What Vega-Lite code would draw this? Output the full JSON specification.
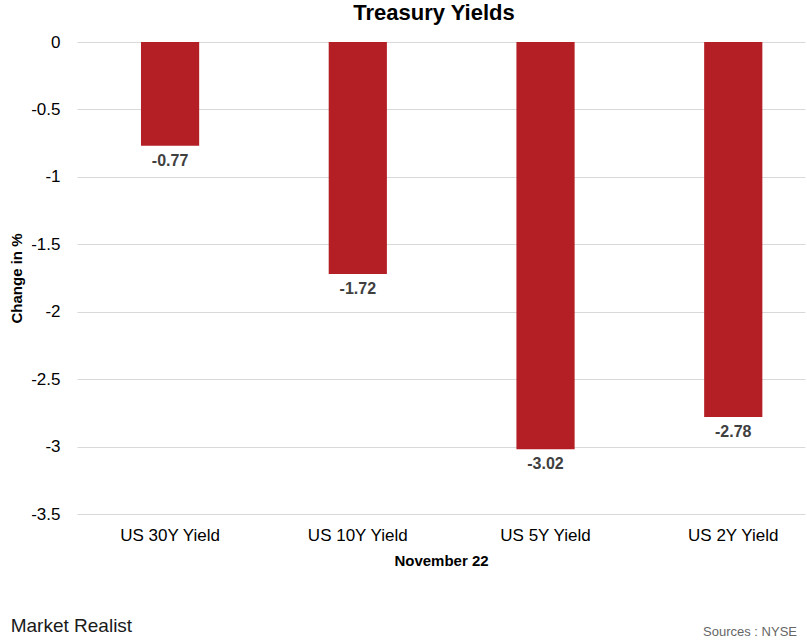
{
  "$schema": "https://vega.github.io/schema/vega-lite/v6.json",
  "background": "white",
  "padding": {"left": 9, "top": 2, "right": 2, "bottom": 2},
  "config": {
    "font": "Liberation Sans",
    "view": {"stroke": null},
    "concat": {"spacing": 0}
  },
  "title": {
    "text": "Treasury Yields",
    "fontSize": 22,
    "fontWeight": "bold",
    "color": "#000000",
    "anchor": "middle",
    "frame": "group",
    "dx": -7,
    "offset": 8
  },
  "vconcat": [
    {
      "title": {
        "text": "Market Realist",
        "orient": "bottom",
        "anchor": "start",
        "frame": "bounds",
        "fontSize": 19,
        "fontWeight": "normal",
        "color": "#1a1a1a",
        "dx": 1,
        "dy": -22,
        "offset": 0
      },
      "vconcat": [
        {
          "title": {
            "text": "Sources : NYSE",
            "orient": "bottom",
            "anchor": "end",
            "frame": "group",
            "fontSize": 13,
            "fontWeight": "normal",
            "color": "#666666",
            "dx": -8,
            "offset": 58
          },
          "width": 728,
          "height": 472,
          "data": {
            "values": [
              {"bond": "US 30Y Yield", "value": -0.77},
              {"bond": "US 10Y Yield", "value": -1.72},
              {"bond": "US 5Y Yield", "value": -3.02},
              {"bond": "US 2Y Yield", "value": -2.78}
            ]
          },
          "encoding": {
            "x": {
              "field": "bond",
              "type": "nominal",
              "sort": null,
              "scale": {"paddingInner": 0.69, "paddingOuter": 0.284, "align": 0.6},
              "axis": {
                "title": "November 22",
                "titleFontSize": 15,
                "titleFontWeight": "bold",
                "titleColor": "#000000",
                "titlePadding": 10,
                "labelAngle": 0,
                "labelFontSize": 17,
                "labelColor": "#000000",
                "labelPadding": 13,
                "domain": false,
                "ticks": false
              }
            },
            "y": {
              "field": "value",
              "type": "quantitative",
              "scale": {"domain": [-3.5, 0], "nice": false},
              "axis": {
                "title": "Change in %",
                "titleFontSize": 15,
                "titleFontWeight": "bold",
                "titleColor": "#000000",
                "titlePadding": 6,
                "values": [0, -0.5, -1, -1.5, -2, -2.5, -3, -3.5],
                "labelExpr": "'' + datum.value",
                "labelFontSize": 17,
                "labelColor": "#000000",
                "labelPadding": 17,
                "grid": true,
                "gridColor": "#d9d9d9",
                "domain": false,
                "ticks": false
              }
            }
          },
          "layer": [
            {
              "mark": {"type": "bar", "color": "#B41F26"}
            },
            {
              "mark": {
                "type": "text",
                "baseline": "top",
                "dy": 7,
                "fontSize": 16,
                "fontWeight": "bold",
                "color": "#404040"
              },
              "encoding": {
                "text": {"field": "value", "type": "nominal"}
              }
            }
          ]
        }
      ]
    }
  ]
}
